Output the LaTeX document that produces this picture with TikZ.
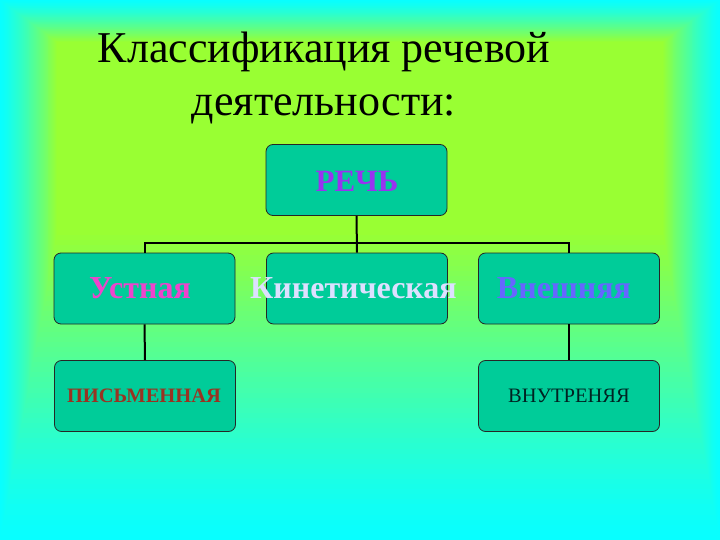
\documentclass[tikz,border=0pt]{standalone}
\usepackage{fontspec}
\setmainfont{Liberation Serif}
\definecolor{bgcyan}{HTML}{08FFFF}
\definecolor{bglime}{HTML}{99FF33}
\definecolor{boxfill}{HTML}{00CC99}
\definecolor{cRech}{HTML}{9933F0}
\definecolor{cUst}{HTML}{EE44CC}
\definecolor{cKin}{HTML}{DDE0FF}
\definecolor{cVnesh}{HTML}{6666FF}
\definecolor{cPis}{HTML}{993322}
\definecolor{cVnut}{HTML}{002222}
\tikzset{
  box/.style={draw=black!85, line width=0.8pt, fill=boxfill, rounded corners=7pt,
    minimum width=181pt, minimum height=71pt, inner sep=0pt},
  bigbold/.style={font=\fontsize{32}{36}\selectfont\bfseries},
  titlefont/.style={font=\fontsize{44}{52}\selectfont},
  conn/.style={line width=2pt, black}
}
\begin{document}
\begin{tikzpicture}[x=1pt,y=-1pt]
\useasboundingbox (0,0) rectangle (720,540);
% background box gradient
\foreach \i in {0,...,60}{
  \pgfmathsetmacro\s{\i/60}
  \pgfmathsetmacro\p{100*(\s^1.25)}
  \fill[bglime!\p!bgcyan] ({57*\s},{42*\s}) rectangle ({720-57*\s},{540-305*\s});
}
% title
\node[anchor=base, titlefont] (title1) at (324,63) {Классификация речевой};
\node[anchor=base, titlefont] (title2) at (324,116) {деятельности:};
% boxes
\node[box] (rech) at (356.5,180) {};
\node[box] (ust) at (144.5,288.5) {};
\node[box] (kin) at (357,288.5) {};
\node[box] (vnesh) at (569,288.5) {};
\node[box] (pis) at (145,396) {};
\node[box] (vnut) at (569,396) {};
% connectors
\coordinate (busL) at (144.5,243);
\coordinate (busR) at (569,243);
\draw[conn] (rech.south) -- (kin.north);
\draw[conn] (ust.north) -- (busL) -- (busR) -- (vnesh.north);
\draw[conn] (ust.south) -- (pis.north);
\draw[conn] (vnesh.south) -- (vnut.north);
% labels
\node[font=\fontsize{31}{34}\selectfont\bfseries, text=cRech] (lRech) at (357,181) {РЕЧЬ};
\node[bigbold, text=cUst] (lUst) at (140,288.5) {Устная};
\node[bigbold, text=cKin] (lKin) at (353.5,288.5) {Кинетическая};
\node[bigbold, text=cVnesh] (lVnesh) at (564,288.5) {Внешняя};
\node[font=\fontsize{20.5}{23}\selectfont\bfseries, text=cPis] (lPis) at (144,396) {ПИСЬМЕННАЯ};
\node[font=\fontsize{20.5}{23}\selectfont, text=cVnut] (lVnut) at (569,396) {ВНУТРЕНЯЯ};
\end{tikzpicture}
\end{document}
